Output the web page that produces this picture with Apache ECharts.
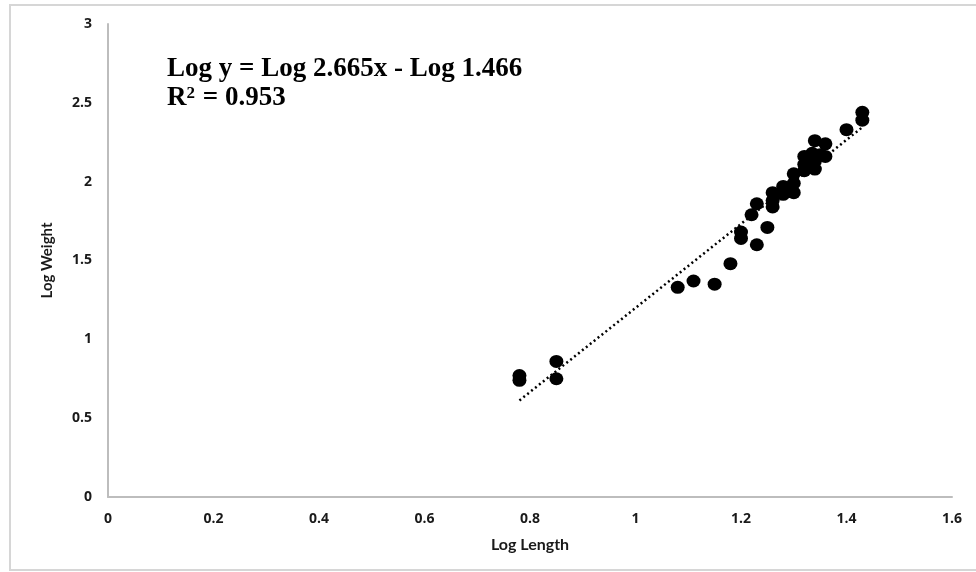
<!DOCTYPE html>
<html>
<head>
<meta charset="utf-8">
<script src="https://cdn.jsdelivr.net/npm/echarts@6/dist/echarts.min.js"></script>
<style>
html,body{margin:0;padding:0;background:#fff;}
#c{width:976px;height:572px;}
</style>
</head>
<body>
<div id="c"></div>
<script>
const logLength = [0.78,0.78,0.85,0.85,1.08,1.11,1.15,1.18,1.20,1.20,1.23,1.22,1.23,1.25,1.26,1.26,1.26,1.28,1.28,1.29,1.30,1.30,1.30,1.32,1.32,1.32,1.34,1.335,1.34,1.34,1.35,1.36,1.36,1.40,1.43,1.43];
const logWeight = [0.77,0.74,0.86,0.75,1.33,1.37,1.35,1.48,1.68,1.64,1.60,1.79,1.86,1.71,1.93,1.88,1.84,1.97,1.92,1.94,2.05,1.99,1.93,2.16,2.11,2.07,2.26,2.18,2.13,2.08,2.17,2.24,2.16,2.33,2.44,2.39];
const trendSlope = 2.665;
const trendIntercept = -1.466;
const trendX = [0.78, 1.43];
const xTicks = [0,0.2,0.4,0.6,0.8,1,1.2,1.4,1.6];
const yTicks = [0,0.5,1,1.5,2,2.5,3];
const equationText = 'Log y = Log 2.665x - Log 1.466';
const r2Text = '0.953';

const points = logLength.map((x,i)=>[x, logWeight[i]]);
const trend = trendX.map(x=>[x, trendSlope*x + trendIntercept]);

const chart = echarts.init(document.getElementById('c'), null, {renderer:'canvas'});
const labelFont = {color:'#1a1a1a', fontFamily:'Open Sans', fontWeight:'bold', fontSize:14};
chart.setOption({
  animation:false,
  backgroundColor:'#fff',
  grid:{left:108, right:24, top:24, bottom:75},
  xAxis:{
    type:'value', min:0, max:1.6, interval:0.2,
    name:'Log Length', nameLocation:'middle', nameGap:40,
    nameTextStyle:{color:'#1a1a1a', fontFamily:'Lato', fontWeight:'bold', fontSize:16},
    axisLine:{show:true, lineStyle:{color:'#bdbdbd', width:2}},
    axisTick:{show:false}, splitLine:{show:false},
    axisLabel:Object.assign({margin:15, formatter:v=>String(+v.toFixed(1))}, labelFont)
  },
  yAxis:{
    type:'value', min:0, max:3, interval:0.5,
    name:'Log Weight', nameLocation:'middle', nameGap:53, nameRotate:90,
    nameTextStyle:{color:'#1a1a1a', fontFamily:'Lato', fontWeight:'bold', fontSize:15},
    axisLine:{show:true, onZero:false, lineStyle:{color:'#bdbdbd', width:2}},
    axisTick:{show:false}, splitLine:{show:false},
    axisLabel:Object.assign({margin:16, formatter:v=>String(+v.toFixed(1))}, labelFont)
  },
  graphic:[
    {type:'rect', silent:true, shape:{x:10,y:5,width:980,height:565}, style:{fill:'none', stroke:'#d6d6d6', lineWidth:2}},
    {type:'text', left:167, top:56, style:{text:equationText, fill:'#000', font:'bold 27px "Liberation Serif"'}},
    {type:'text', left:167, top:85, style:{
      text:'{b|R}{s|2}{b| = ' + r2Text + '}',
      rich:{
        b:{fill:'#000', font:'bold 27px "Liberation Serif"', verticalAlign:'bottom'},
        s:{fill:'#000', font:'bold 17px "Liberation Serif"', verticalAlign:'top', padding:[0,1,9,0]}
      }
    }}
  ],
  series:[
    {type:'scatter', data:points, symbol:'circle', symbolSize:[14,13],
     itemStyle:{color:'#000', opacity:1}, z:3},
    {type:'line', data:trend, symbol:'none', lineStyle:{color:'#000', width:2.5, type:[2,3]}, z:2}
  ]
});
</script>
</body>
</html>
